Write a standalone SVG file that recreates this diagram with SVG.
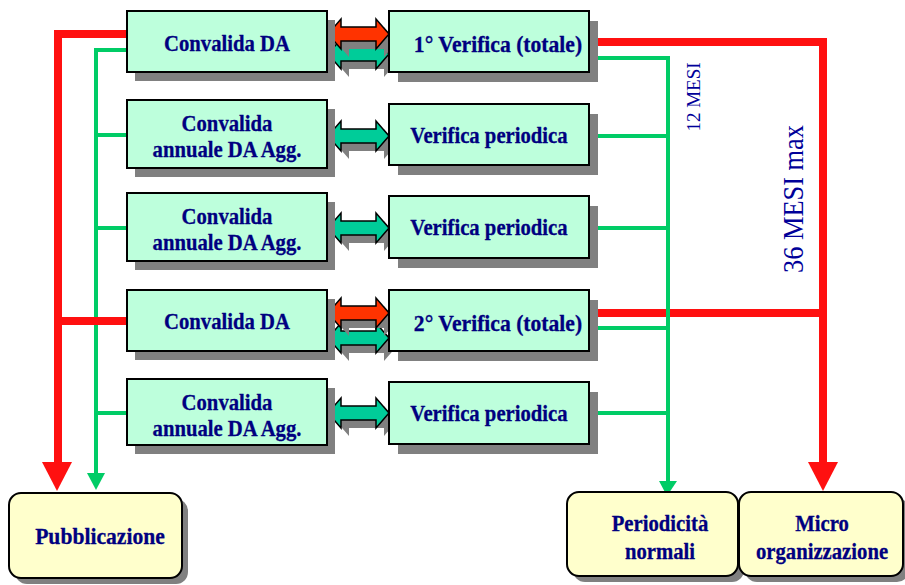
<svg xmlns="http://www.w3.org/2000/svg" width="905" height="585" viewBox="0 0 905 585">
<style>
.box{fill:#BDFFDC;stroke:#000;stroke-width:2}
.shd{fill:#808080}
.out{fill:#FFFFCC;stroke:#000;stroke-width:2}
.t{font-family:"Liberation Serif","Times New Roman",serif;font-weight:bold;font-size:23px;fill:#000080;stroke:#000080;stroke-width:0.3;text-anchor:middle}
.r{stroke:#FF1010;stroke-width:8;fill:none}
.g{stroke:#00CC66;stroke-width:4;fill:none}
.ar{fill:#FF3300;stroke:#000;stroke-width:1.5}
.ag{fill:#00CC99;stroke:#000;stroke-width:1.5}
.as{fill:#808080}
.m{font-family:"Liberation Serif","Times New Roman",serif;fill:#000099}
</style>
<defs>
<path id="da" d="M0,0 L13,-15 L13,-7 L48,-7 L48,-15 L61,0 L48,15 L48,7 L13,7 L13,15 Z"/>
</defs>
<g id="connectors">
<path class="g" d="M127,50 H96 V476 M96,135 H127 M96,228 H127 M96,413 H127"/>
<polygon points="96,490 87,473 105,473" fill="#00CC66"/>
<path class="r" d="M127,34 H58 V465 M54,321 H127"/>
<polygon points="57,491 42,462 72,462" fill="#FF1010"/>
<path class="r" d="M592,42 H823 V465 M592,313 H823"/>
<polygon points="823,491 808,462 838,462" fill="#FF1010"/>
<path class="g" d="M592,58 H668 V482 M594,136 H668 M598,228 H668 M594,328 H668 M598,413 H668"/>
<polygon points="667,496 659,481 677,481" fill="#00CC66"/>
</g>
<g id="arrows">
<use href="#da" class="as" transform="translate(336,62)"/>
<use href="#da" class="ag" transform="translate(328,54)"/>
<use href="#da" class="as" transform="translate(336,42)"/>
<use href="#da" class="ar" transform="translate(328,34)"/>
<use href="#da" class="as" transform="translate(336,144)"/>
<use href="#da" class="ag" transform="translate(328,136)"/>
<use href="#da" class="as" transform="translate(336,236)"/>
<use href="#da" class="ag" transform="translate(328,228)"/>
<use href="#da" class="as" transform="translate(336,346)"/>
<use href="#da" class="ag" transform="translate(328,338)"/>
<use href="#da" class="as" transform="translate(336,321)"/>
<use href="#da" class="ar" transform="translate(328,313)"/>
<use href="#da" class="as" transform="translate(336,421)"/>
<use href="#da" class="ag" transform="translate(328,413)"/>
</g>
<g id="convalida1">
<rect class="shd" x="135" y="20" width="200" height="61"/>
<rect class="box" x="127" y="11" width="200" height="61"/>
<g transform="translate(227,0) scale(0.9,1)"><text class="t" x="0" y="51">Convalida DA</text></g>
</g>
<g id="convalida2">
<rect class="shd" x="135" y="109" width="200" height="68"/>
<rect class="box" x="127" y="100" width="200" height="68"/>
<g transform="translate(227,0) scale(0.9,1)"><text class="t" x="0" y="131">Convalida</text>
<text class="t" x="0" y="157">annuale DA Agg.</text></g>
</g>
<g id="convalida3">
<rect class="shd" x="135" y="202" width="200" height="68"/>
<rect class="box" x="127" y="193" width="200" height="68"/>
<g transform="translate(227,0) scale(0.9,1)"><text class="t" x="0" y="224">Convalida</text>
<text class="t" x="0" y="250">annuale DA Agg.</text></g>
</g>
<g id="convalida4">
<rect class="shd" x="135" y="299" width="200" height="61"/>
<rect class="box" x="127" y="290" width="200" height="61"/>
<g transform="translate(227,0) scale(0.9,1)"><text class="t" x="0" y="329">Convalida DA</text></g>
</g>
<g id="convalida5">
<rect class="shd" x="135" y="388" width="200" height="66"/>
<rect class="box" x="127" y="379" width="200" height="66"/>
<g transform="translate(227,0) scale(0.9,1)"><text class="t" x="0" y="410">Convalida</text>
<text class="t" x="0" y="436">annuale DA Agg.</text></g>
</g>
<g id="verifica1">
<rect class="shd" x="398" y="21" width="200" height="61"/>
<rect class="box" x="389" y="11" width="200" height="61"/>
<g transform="translate(498,0) scale(0.94,1)"><text class="t" x="0" y="52">1° Verifica (totale)</text></g>
</g>
<g id="verifica2">
<rect class="shd" x="398" y="114" width="200" height="61"/>
<rect class="box" x="389" y="104" width="200" height="61"/>
<g transform="translate(489,0) scale(0.9,1)"><text class="t" x="0" y="143">Verifica periodica</text></g>
</g>
<g id="verifica3">
<rect class="shd" x="398" y="206" width="200" height="62"/>
<rect class="box" x="389" y="196" width="200" height="62"/>
<g transform="translate(489,0) scale(0.9,1)"><text class="t" x="0" y="235">Verifica periodica</text></g>
</g>
<g id="verifica4">
<rect class="shd" x="398" y="300" width="200" height="61"/>
<rect class="box" x="389" y="290" width="200" height="61"/>
<g transform="translate(498,0) scale(0.94,1)"><text class="t" x="0" y="331">2° Verifica (totale)</text></g>
</g>
<g id="verifica5">
<rect class="shd" x="398" y="392" width="200" height="62"/>
<rect class="box" x="389" y="382" width="200" height="62"/>
<g transform="translate(489,0) scale(0.9,1)"><text class="t" x="0" y="421">Verifica periodica</text></g>
</g>
<g id="pubblicazione">
<rect class="shd" x="15" y="499" width="173" height="85" rx="12"/>
<rect class="out" x="9" y="493" width="173" height="85" rx="12"/>
<g transform="translate(100,0) scale(0.94,1)"><text class="t" x="0" y="544">Pubblicazione</text></g>
</g>
<g id="periodicita">
<rect class="shd" x="573" y="498" width="171" height="84" rx="12"/>
<rect class="out" x="567" y="492" width="171" height="84" rx="12"/>
<g transform="translate(660,0) scale(0.9,1)"><text class="t" x="0" y="531">Periodicità</text>
<text class="t" x="0" y="559">normali</text></g>
</g>
<g id="micro">
<rect class="shd" x="745" y="498" width="164" height="84" rx="12"/>
<rect class="out" x="739" y="492" width="164" height="84" rx="12"/>
<g transform="translate(822,0) scale(0.9,1)"><text class="t" x="0" y="531">Micro</text>
<text class="t" x="0" y="559">organizzazione</text></g>
</g>
<g id="labels">
<text class="m" font-size="19" text-anchor="middle" transform="translate(700,97) rotate(-90)">12 MESI</text>
<text class="m" font-size="30" textLength="148" lengthAdjust="spacingAndGlyphs" transform="translate(803,273) rotate(-90)">36 MESI max</text>
</g>
</svg>
